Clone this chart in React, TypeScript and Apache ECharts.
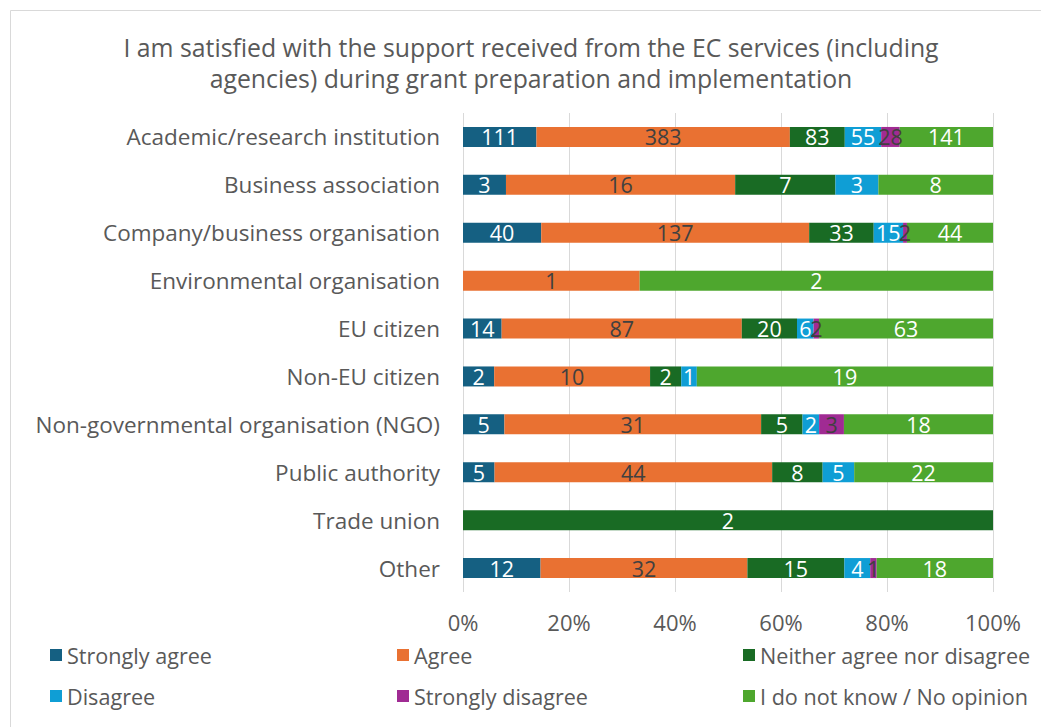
import React, { useEffect, useRef } from "react";
import * as echarts from "echarts";

const categories = [
  "Academic/research institution",
  "Business association",
  "Company/business organisation",
  "Environmental organisation",
  "EU citizen",
  "Non-EU citizen",
  "Non-governmental organisation (NGO)",
  "Public authority",
  "Trade union",
  "Other",
];

const seriesNames = [
  "Strongly agree",
  "Agree",
  "Neither agree nor disagree",
  "Disagree",
  "Strongly disagree",
  "I do not know / No opinion",
];

const stronglyAgree = [111, 3, 40, 0, 14, 2, 5, 5, 0, 12];
const agree = [383, 16, 137, 1, 87, 10, 31, 44, 0, 32];
const neither = [83, 7, 33, 0, 20, 2, 5, 8, 2, 15];
const disagree = [55, 3, 15, 0, 6, 1, 2, 5, 0, 4];
const stronglyDisagree = [28, 0, 2, 0, 2, 0, 3, 0, 0, 1];
const noOpinion = [141, 8, 44, 2, 63, 19, 18, 22, 0, 18];

const xTicks = [0, 20, 40, 60, 80, 100];

const colors = ["#156082", "#E97132", "#196B24", "#0F9ED5", "#A02B93", "#4EA72E"];
const labelColors = ["#ffffff", "#404040", "#ffffff", "#ffffff", "#404040", "#ffffff"];

const FONT = "'Open Sans', 'Noto Sans', sans-serif";

export default function App() {
  const ref = useRef<HTMLDivElement>(null);
  useEffect(() => {
    document.body.style.margin = "0";
    if (!ref.current) return;
    const chart = echarts.init(ref.current, undefined, { renderer: "svg" });
    const all = [stronglyAgree, agree, neither, disagree, stronglyDisagree, noOpinion];
    const totals = categories.map((_, i) => all.reduce((s, arr) => s + arr[i], 0));
    const legendPos = [
      [50, 644], [397, 644], [743, 644],
      [50, 685], [397, 685], [743, 685],
    ];
    chart.setOption({
      animation: false,
      textStyle: { fontFamily: FONT },
      graphic: [
        {
          type: "rect",
          shape: { x: 10.5, y: 10.5, width: 1100, height: 800 },
          style: { fill: "none", stroke: "#d9d9d9", lineWidth: 1 },
          silent: true,
        },
        {
          type: "text",
          x: 531,
          y: 62,
          style: {
            text: "I am satisfied with the support received from the EC services (including\nagencies) during grant preparation and implementation",
            align: "center",
            verticalAlign: "middle",
            fontSize: 24.8,
            lineHeight: 31,
            fontFamily: FONT,
            fill: "#595959",
          },
        },
      ],
      legend: seriesNames.map((n, i) => ({
        data: [n],
        left: legendPos[i][0],
        top: legendPos[i][1],
        itemWidth: 12,
        itemHeight: 12,
        icon: "rect",
        padding: 0,
        textStyle: { fontSize: 21.6, color: "#595959", fontFamily: FONT },
        selectedMode: false,
      })),
      grid: { left: 463, right: 48, top: 113, bottom: 135 },
      xAxis: {
        type: "value",
        min: 0,
        max: 100,
        interval: 20,
        axisLabel: {
          formatter: (v: number) => (xTicks.includes(v) ? v + "%" : ""),
          fontSize: 22,
          color: "#595959",
          margin: 19,
          fontFamily: FONT,
        },
        splitLine: { lineStyle: { color: "#d9d9d9" } },
        axisLine: { show: false },
        axisTick: { show: false },
      },
      yAxis: {
        type: "category",
        data: categories,
        inverse: true,
        axisLine: { show: false },
        axisTick: { show: false },
        axisLabel: { fontSize: 22.5, color: "#595959", margin: 23, fontFamily: FONT },
      },
      series: seriesNames.map((n, si) => ({
        name: n,
        type: "bar",
        stack: "total",
        barWidth: 20,
        itemStyle: { color: colors[si] },
        label: {
          show: true,
          position: "inside",
          fontSize: 21.5,
          color: labelColors[si],
          fontFamily: FONT,
          formatter: (p: any) => {
            const c = all[si][p.dataIndex];
            return c === 0 ? "" : String(c);
          },
        },
        data: all[si].map((c, i) => (c / totals[i]) * 100),
      })),
    });
    return () => chart.dispose();
  }, []);
  return <div ref={ref} style={{ width: 1041, height: 727 }} />;
}
